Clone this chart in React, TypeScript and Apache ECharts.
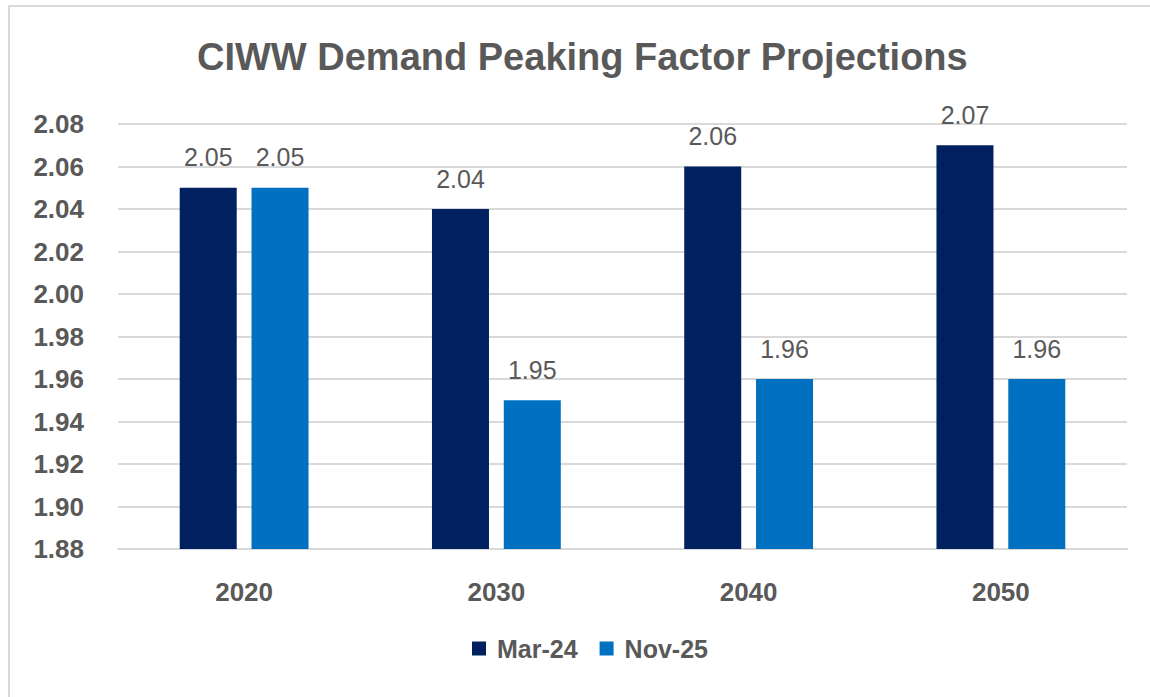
import React, { useEffect, useRef } from "react";
import * as echarts from "echarts";

const categories = ["2020", "2030", "2040", "2050"];
const mar24 = [2.05, 2.04, 2.06, 2.07];
const nov25 = [2.05, 1.95, 1.96, 1.96];
const seriesNames = ["Mar-24", "Nov-25"];
const yMin = 1.88;
const yMax = 2.08;
const yInterval = 0.02;

export default function App() {
  const ref = useRef<HTMLDivElement>(null);
  useEffect(() => {
    if (!ref.current) return;
    const chart = echarts.init(ref.current, null, { renderer: "svg" });
    const font = "'Liberation Sans', Arial, sans-serif";
    const label = {
      show: true,
      position: "top",
      distance: 18,
      color: "#595959",
      fontSize: 25,
      fontFamily: font,
      formatter: (p: any) => Number(p.value).toFixed(2),
    };
    chart.setOption({
      animation: false,
      backgroundColor: "#ffffff",
      textStyle: { fontFamily: font },
      title: {
        text: "CIWW Demand Peaking Factor Projections",
        left: 192,
        top: 33,
        textStyle: { fontSize: 38, fontWeight: "bold", color: "#595959", fontFamily: font },
      },
      graphic: [
        {
          type: "rect",
          shape: { x: 9, y: 6, width: 1160, height: 720 },
          style: { fill: "none", stroke: "#d9d9d9", lineWidth: 2 },
          silent: true,
        },
      ],
      legend: {
        bottom: 31,
        left: 467,
        itemWidth: 14,
        itemHeight: 14,
        itemGap: 22,
        icon: "rect",
        textStyle: {
          fontSize: 25,
          fontWeight: "bold",
          color: "#595959",
          fontFamily: font,
          padding: [0, 0, 0, 6],
        },
        data: seriesNames,
      },
      grid: { left: 118, right: 23, top: 124, bottom: 148 },
      xAxis: {
        type: "category",
        data: categories,
        axisLine: { show: true, lineStyle: { color: "#d9d9d9", width: 2 } },
        axisTick: { show: false },
        axisLabel: { fontSize: 26, fontWeight: "bold", color: "#595959", margin: 30, fontFamily: font },
      },
      yAxis: {
        type: "value",
        min: yMin,
        max: yMax,
        interval: yInterval,
        axisLine: { show: false },
        axisTick: { show: false },
        splitLine: { lineStyle: { color: "#d9d9d9", width: 2 } },
        axisLabel: {
          fontSize: 26,
          fontWeight: "bold",
          color: "#595959",
          margin: 34,
          fontFamily: font,
          formatter: (v: number) => v.toFixed(2),
        },
      },
      series: [
        {
          name: seriesNames[0],
          type: "bar",
          data: mar24,
          barWidth: 57,
          barGap: "26%",
          itemStyle: { color: "#002060" },
          label,
        },
        {
          name: seriesNames[1],
          type: "bar",
          data: nov25,
          barWidth: 57,
          itemStyle: { color: "#0070c0" },
          label,
        },
      ],
    });
    return () => chart.dispose();
  }, []);
  return (
    <div style={{ position: "absolute", left: 0, top: 0, width: 1150, height: 697 }}>
      <div ref={ref} style={{ width: 1150, height: 697 }} />
    </div>
  );
}
